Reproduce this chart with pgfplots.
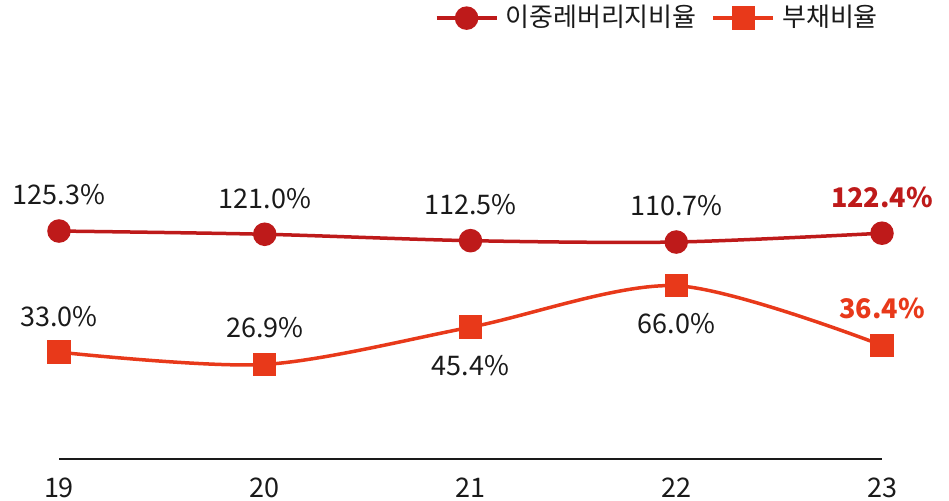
\documentclass[border=0pt]{standalone}
\usepackage{pgfplots}
\pgfplotsset{compat=1.18}
\usepackage{fontspec}
\setmainfont{Noto Sans CJK KR}
\definecolor{cA}{HTML}{BE1A1A}
\definecolor{cB}{HTML}{E8391A}
\definecolor{txt}{HTML}{1A1A1A}
\tikzset{ltxt/.style={font=\fontsize{13.5}{16}\selectfont, text=txt}}
\begin{document}
\fontsize{13.5}{16}\selectfont
\begin{tikzpicture}
\pgfplotsset{
  base/.style={
    scale only axis, width=411.5pt, height=199.5pt,
    xmin=19, xmax=23,
    clip=false,
    /pgf/number format/assume math mode=true,
    tick label style={font=\fontsize{13.5}{16}\selectfont, text=txt},
    major tick length=0pt,
  },
}
% secondary: 부채비율
\begin{axis}[base, ymin=-20.06, ymax=178.1, hide x axis, hide y axis]
\addplot[cB, line width=1.75pt, smooth, mark=square*, mark size=5pt, mark options={solid}] coordinates {
 (19,33.0) (20,26.9) (21,45.4) (22,66.0) (23,36.4)};
\node[ltxt, anchor=center, yshift=18pt] at (axis cs:19,33.0) {33.0\%};
\node[ltxt, anchor=center, yshift=18.5pt] at (axis cs:20,26.9) {26.9\%};
\node[ltxt, anchor=center, yshift=-19pt] at (axis cs:21,45.4) {45.4\%};
\node[ltxt, anchor=center, yshift=-19pt] at (axis cs:22,66.0) {66.0\%};
\node[font=\fontsize{13.5}{16}\selectfont\bfseries, text=cB, anchor=center, yshift=18.5pt] at (axis cs:23,36.4) {36.4\%};
\end{axis}
% primary: 이중레버리지비율
\begin{axis}[base, ymin=-177.3, ymax=352.3,
  axis lines*=left, hide y axis,
  x axis line style={line width=1pt, draw=txt},
  xtick={19,20,21,22,23},
  xticklabel style={inner sep=0pt, anchor=north, yshift=-9pt},
  legend columns=2,
  legend style={at={(rel axis cs:1.004,1.105)}, anchor=east, draw=none, fill=none,
    inner sep=0pt, font=\fontsize{13}{16}\selectfont, text=txt,
    nodes={inner xsep=3.5pt},
    /tikz/every even column/.append style={column sep=4pt}},
  legend image code/.code={
    \draw[mark repeat=2,mark phase=2,#1] plot coordinates {(0pt,0pt) (15pt,0pt) (30pt,0pt)};
  },
]
\addplot[cA, line width=1.75pt, smooth, mark=*, mark size=5pt, mark options={solid}] coordinates {
 (19,125.3) (20,121.0) (21,112.5) (22,110.7) (23,122.4)};
\addlegendentry{이중레버리지비율}
\addlegendimage{cB, line width=1.75pt, mark=square*, mark size=5pt}
\addlegendentry{부채비율}
\node[ltxt, anchor=center, yshift=18pt] at (axis cs:19,125.3) {125.3\%};
\node[ltxt, anchor=center, yshift=18pt] at (axis cs:20,121.0) {121.0\%};
\node[ltxt, anchor=center, yshift=18pt] at (axis cs:21,112.5) {112.5\%};
\node[ltxt, anchor=center, yshift=18pt] at (axis cs:22,110.7) {110.7\%};
\node[font=\fontsize{13.5}{16}\selectfont\bfseries, text=cA, anchor=center, yshift=18pt] at (axis cs:23,122.4) {122.4\%};
\end{axis}
\pgfresetboundingbox
\path (-29.5pt,-20.5pt) rectangle (445pt,229.5pt);
\end{tikzpicture}
\end{document}
